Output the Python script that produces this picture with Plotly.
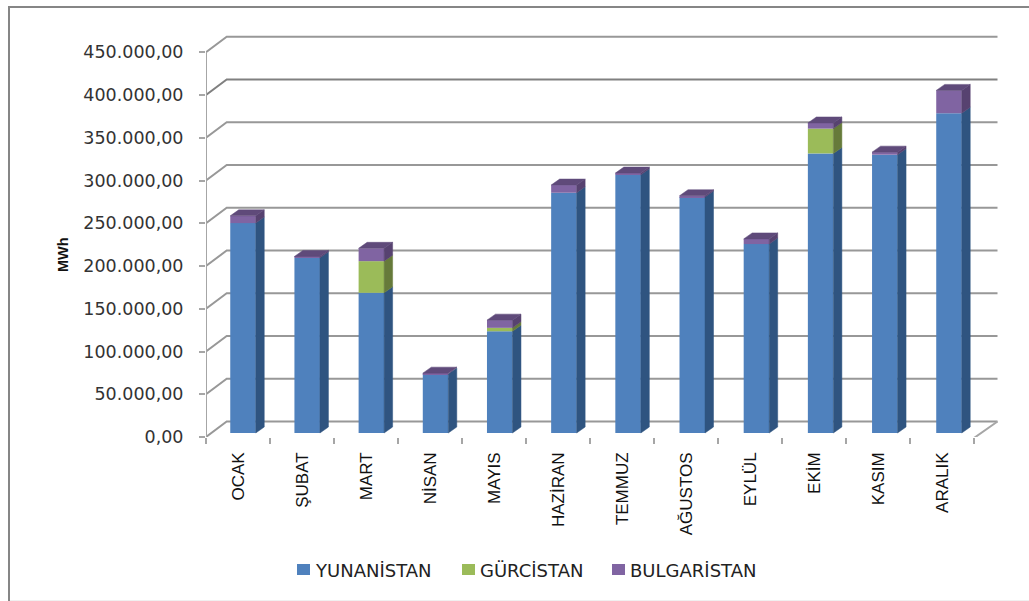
import plotly.graph_objects as go

months = ["OCAK", "ŞUBAT", "MART", "NİSAN", "MAYIS", "HAZİRAN", "TEMMUZ", "AĞUSTOS", "EYLÜL", "EKİM", "KASIM", "ARALIK"]
yunanistan = [245500, 205000, 164000, 69000, 119000, 281000, 302000, 276000, 221000, 327000, 325500, 374000]
gurcistan = [0, 0, 37000, 0, 4000, 0, 0, 0, 0, 29000, 0, 0]
bulgaristan = [8500, 1500, 15000, 1000, 9000, 9000, 2000, 1500, 6000, 6600, 3000, 26700]
tick_values = [0, 50000, 100000, 150000, 200000, 250000, 300000, 350000, 400000, 450000]
tick_labels = ["0,00", "50.000,00", "100.000,00", "150.000,00", "200.000,00", "250.000,00",
               "300.000,00", "350.000,00", "400.000,00", "450.000,00"]

W, H = 1029, 601
L, R, T, B = 206, 1000, 30, 437
PX_PER_CAT = 64.0
PX_PER_VAL = 42.75 / 50000


def cat(px):
    return px / PX_PER_CAT


def val(px):
    return px / PX_PER_VAL


def paper_x(x):
    return (x - L) / (R - L)


def paper_y(y):
    return (B - y) / (B - T)


wall_dx, wall_dy = cat(20.7), val(15.5)
bar_shift_x, bar_base = cat(5.0), val(4)
bar_pitch = cat(64.18)
bar_w = cat(25.5)
depth_x, depth_y = cat(8.5), val(6)
n = len(months)
centers = [i * bar_pitch + 0.5 + bar_shift_x for i in range(n)]

series = [
    ("YUNANİSTAN", yunanistan, "#4F81BD", "#2F5480"),
    ("GÜRCİSTAN", gurcistan, "#9BBB59", "#667A3A"),
    ("BULGARİSTAN", bulgaristan, "#8064A2", "#574270"),
]
TOP_COLOR = "#5F4A7A"

fig = go.Figure()
stack = [bar_base] * n
for name, values, front, side in series:
    fig.add_bar(x=centers, y=values, base=list(stack), width=bar_w, name=name,
                marker=dict(color=front, line=dict(width=0)), showlegend=False)
    sx, sy = [], []
    for i, v in enumerate(values):
        if v <= 0:
            continue
        xr = centers[i] + bar_w / 2
        b0, b1 = stack[i], stack[i] + v
        sx += [xr, xr + depth_x, xr + depth_x, xr, xr, None]
        sy += [b0, b0 + depth_y, b1 + depth_y, b1, b0, None]
    fig.add_scatter(x=sx, y=sy, mode="lines", fill="toself", fillcolor=side,
                    line=dict(width=0.5, color=side), showlegend=False, hoverinfo="skip")
    stack = [s + v for s, v in zip(stack, values)]

tx, ty = [], []
for i, s in enumerate(stack):
    xl, xr = centers[i] - bar_w / 2, centers[i] + bar_w / 2
    tx += [xl, xr, xr + depth_x, xl + depth_x, xl, None]
    ty += [s, s, s + depth_y, s + depth_y, s, None]
fig.add_scatter(x=tx, y=ty, mode="lines", fill="toself", fillcolor=TOP_COLOR,
                line=dict(width=0.5, color=TOP_COLOR), showlegend=False, hoverinfo="skip")

shapes = []
GRID = "#989898"
x_end = cat(791.5)
for v in tick_values:
    color = "#808080" if v == 400000 else GRID
    shapes.append(dict(type="path", layer="below", xref="x", yref="y",
                       path=f"M 0 {v} L {wall_dx} {v + wall_dy} L {x_end} {v + wall_dy}",
                       line=dict(color=color, width=2)))
# front axes and floor edge
shapes.append(dict(type="line", layer="below", xref="x", yref="y", x0=0, x1=0, y0=0, y1=tick_values[-1],
                   line=dict(color="#A6A6A6", width=2)))
shapes.append(dict(type="path", layer="below", xref="x", yref="y",
                   path=f"M 0 {val(-1)} L {n} {val(-1)} L {x_end} {wall_dy}",
                   line=dict(color="#A6A6A6", width=2)))
# chart frame
shapes.append(dict(type="rect", xref="paper", yref="paper", layer="below",
                   x0=paper_x(9), x1=paper_x(1040), y0=paper_y(7), y1=paper_y(610),
                   line=dict(color="#868686", width=2)))
shapes.append(dict(type="line", xref="paper", yref="paper", layer="below",
                   x0=paper_x(10), x1=paper_x(1029), y0=paper_y(600.5), y1=paper_y(600.5),
                   line=dict(color="#F0F0F0", width=1)))

annotations = [dict(text="<b>MWh</b>", textangle=-90, xref="paper", yref="paper",
                    x=paper_x(63), y=paper_y(255), xanchor="center", yanchor="middle", showarrow=False,
                    font=dict(family="Liberation Sans", size=14.5, color="#111111"))]
legend_pos = [297, 462, 612]
for (name, _, front, _), px in zip(series, legend_pos):
    shapes.append(dict(type="rect", xref="paper", yref="paper", line=dict(width=0), fillcolor=front,
                       x0=paper_x(px), x1=paper_x(px + 13), y0=paper_y(564), y1=paper_y(575)))
    annotations.append(dict(text=name, xref="paper", yref="paper", x=paper_x(px + 15.5), y=paper_y(570),
                            xanchor="left", yanchor="middle", showarrow=False,
                            font=dict(family="DejaVu Sans", size=18, color="#222222")))

fig.update_layout(
    width=W, height=H, margin=dict(l=L, r=W - R, t=T, b=H - B),
    paper_bgcolor="white", plot_bgcolor="rgba(0,0,0,0)", barmode="overlay",
    showlegend=False, shapes=shapes, annotations=annotations,
    xaxis=dict(range=[0, (R - L) / PX_PER_CAT], tickmode="array",
               tickvals=[i + 0.5 for i in range(n)], ticktext=months, tickangle=-90,
               ticks="", showgrid=False, zeroline=False, showline=False, ticklabelstandoff=11,
               tickfont=dict(family="Liberation Sans", size=17, color="#111111"),
               minor=dict(tickmode="array", tickvals=list(range(n + 1)), ticks="outside",
                          ticklen=6, tickwidth=2, tickcolor="#A6A6A6", showgrid=False)),
    yaxis=dict(range=[0, (B - T) / PX_PER_VAL], tickmode="array", tickvals=tick_values,
               ticktext=tick_labels, ticks="outside", ticklen=6, tickwidth=2, tickcolor="#A6A6A6",
               showgrid=False, zeroline=False, showline=False, ticklabelstandoff=12,
               tickfont=dict(family="DejaVu Sans", size=17.5, color="#333333")),
)
fig.write_html("out.html", config={"displayModeBar": False},
               post_script="document.body.style.margin='0';document.body.style.overflow='hidden';")
